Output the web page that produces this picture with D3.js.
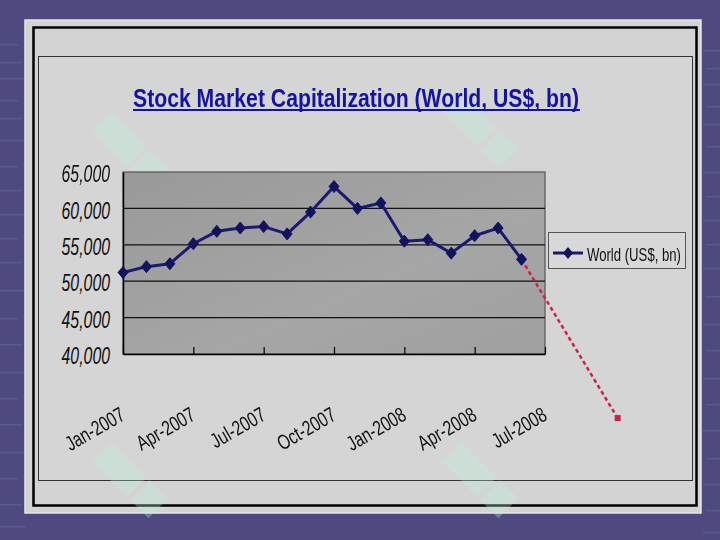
<!DOCTYPE html>
<html><head><meta charset="utf-8">
<script src="https://cdn.jsdelivr.net/npm/d3@7/dist/d3.min.js"></script>
<style>html,body{margin:0;padding:0;background:#4d4980;}svg{display:block}</style>
</head><body>
<script>
const months = ["Jan-2007","Feb-2007","Mar-2007","Apr-2007","May-2007","Jun-2007","Jul-2007","Aug-2007","Sep-2007","Oct-2007","Nov-2007","Dec-2007","Jan-2008","Feb-2008","Mar-2008","Apr-2008","May-2008","Jun-2008"];
const values = [51200,52000,52400,55150,56850,57300,57500,56500,59500,63000,60000,60750,55500,55700,53850,56250,57300,53000];
const xTickLabels = ["Jan-2007","Apr-2007","Jul-2007","Oct-2007","Jan-2008","Apr-2008","Jul-2008"];
const xTickIndex = [0,3,6,9,12,15,18];
const yTicks = [40000,45000,50000,55000,60000,65000];
const trendIndex = [17, 21.1];
const trendValues = [53000, 31200];
const seriesName = "World (US$, bn)";
const title = "Stock Market Capitalization (World, US$, bn)";

const W=720,H=540;
const svg=d3.select("body").append("svg").attr("width",W).attr("height",H);
const NARROW="'Liberation Sans Narrow','Arial Narrow','Liberation Sans',Arial,sans-serif";

// background
const bg=svg.append("g");
bg.append("rect").attr("width",W).attr("height",H).attr("fill","#4e4a80");
const stripeY=[44,62,78,100,118,140,166,190,214,238,262,290,318,344,372,398,424,452,478,504,526];
stripeY.forEach((y,i)=>{
  bg.append("rect").attr("x",0).attr("y",y).attr("width",18+(i%3)*4).attr("height",1.5).attr("fill","#66629c").attr("opacity",0.6);
  bg.append("rect").attr("x",703+(i%2)*3).attr("y",y+6).attr("width",20).attr("height",1.5).attr("fill","#66629c").attr("opacity",0.6);
});

// panel
svg.append("rect").attr("x",25).attr("y",20).attr("width",676).attr("height",493).attr("fill","#d3d3d3").attr("stroke","#e6e6e6").attr("stroke-width",1.5);
svg.append("rect").attr("x",33.5).attr("y",27.5).attr("width",663).attr("height",478).attr("fill","none").attr("stroke","#000").attr("stroke-width",2.5);
svg.append("rect").attr("x",38.5).attr("y",56.5).attr("width",654).attr("height",424).attr("fill","#d5d5d5").attr("stroke","#333").attr("stroke-width",1);

// watermark shapes (faint)
const wm=svg.append("g").attr("opacity",0.3);
[[130,150],[480,130],[130,480],[480,480]].forEach(([cx,cy])=>{
  const g=wm.append("g").attr("transform",`translate(${cx},${cy}) rotate(-45)`);
  g.append("rect").attr("x",-14).attr("y",-40).attr("width",28).attr("height",50).attr("fill","#b8f5d8");
  g.append("rect").attr("x",-14).attr("y",14).attr("width",28).attr("height",26).attr("fill","#b8f5d8");
});

// title
svg.append("text").attr("x",133).attr("y",107).attr("font-family",NARROW).attr("font-weight","bold")
  .attr("font-size",26).attr("fill","#1414a0").attr("textLength",446).attr("lengthAdjust","spacingAndGlyphs").text(title);
svg.append("rect").attr("x",133).attr("y",109).attr("width",447).attr("height",2).attr("fill","#1414a0");

// scales
const x=d3.scaleLinear().domain([0,18]).range([123,545]);
const y=d3.scaleLinear().domain([40000,65000]).range([354,172]);

// plot area
const grad=svg.append("defs").append("linearGradient").attr("id","pg").attr("x1",0).attr("y1",0).attr("x2",1).attr("y2",1);
grad.append("stop").attr("offset","0%").attr("stop-color","#999");
grad.append("stop").attr("offset","60%").attr("stop-color","#a6a6a6");
grad.append("stop").attr("offset","100%").attr("stop-color","#a0a0a0");
svg.append("rect").attr("x",x(0)).attr("y",y(65000)).attr("width",x(18)-x(0)).attr("height",y(40000)-y(65000)).attr("fill","url(#pg)").attr("stroke","#555").attr("stroke-width",1.2);

// gridlines
svg.append("g").selectAll("line").data(yTicks.slice(1,-1)).join("line")
  .attr("x1",x(0)).attr("x2",x(18)).attr("y1",d=>y(d)).attr("y2",d=>y(d)).attr("stroke","#111").attr("stroke-width",1.2);

// y axis
const ya=svg.append("g").attr("transform",`translate(${x(0)},0)`)
  .call(d3.axisLeft(y).tickValues(yTicks).tickFormat(d3.format(",")).tickSize(0).tickPadding(13));
ya.select(".domain").attr("stroke","#000").attr("stroke-width",1.5);
ya.selectAll("text").attr("font-family",NARROW).attr("font-size",24).attr("font-style","italic").attr("fill","#111")
  .attr("x",0).attr("dy","0.4em").attr("transform","translate(-13,0) scale(0.66,1)");

// x axis
const xa=svg.append("g").attr("transform",`translate(0,${y(40000)})`)
  .call(d3.axisBottom(x).tickValues(xTickIndex).tickFormat((d,i)=>xTickLabels[i]).tickSizeInner(-7).tickSizeOuter(0));
xa.select(".domain").attr("stroke","#000").attr("stroke-width",1.5);
xa.selectAll(".tick line").attr("stroke","#000").attr("stroke-width",1.2);
xa.selectAll("text").attr("font-family",NARROW).attr("font-size",21).attr("fill","#111")
  .attr("text-anchor","end").attr("y",0).attr("dy",0)
  .attr("transform","translate(3,65) rotate(-30) scale(0.74,1)");

// trend dashed line
svg.append("line").attr("x1",x(trendIndex[0])).attr("y1",y(trendValues[0])).attr("x2",x(trendIndex[1])).attr("y2",y(trendValues[1]))
  .attr("stroke","#cc2244").attr("stroke-width",2.5).attr("stroke-dasharray","4,3");
svg.append("rect").attr("x",x(trendIndex[1])-3).attr("y",y(trendValues[1])-3).attr("width",6).attr("height",6).attr("fill","#cc2244");

// series line
const line=d3.line().x((d,i)=>x(i)).y(d=>y(d));
svg.append("path").datum(values).attr("d",line).attr("fill","none").attr("stroke","#1a1a70").attr("stroke-width",3).attr("stroke-linejoin","round");
const diamond="M0,-6L5,0L0,6L-5,0Z";
svg.append("g").selectAll("path").data(values).join("path")
  .attr("d",diamond).attr("transform",(d,i)=>`translate(${x(i)},${y(d)})`).attr("fill","#12125e").attr("stroke","#12125e").attr("stroke-width",1);

// legend
const lg=svg.append("g");
lg.append("rect").attr("x",548.5).attr("y",232.5).attr("width",137).attr("height",36).attr("fill","#d8d8d8").attr("stroke","#555").attr("stroke-width",1);
lg.append("line").attr("x1",553).attr("x2",583).attr("y1",253).attr("y2",253).attr("stroke","#1a1a70").attr("stroke-width",3);
lg.append("path").attr("d",diamond).attr("transform","translate(568,253)").attr("fill","#12125e");
lg.append("text").attr("x",587).attr("y",261).attr("font-family",NARROW).attr("font-size",18).attr("fill","#111")
  .attr("textLength",94).attr("lengthAdjust","spacingAndGlyphs").text(seriesName);
</script>
</body></html>
